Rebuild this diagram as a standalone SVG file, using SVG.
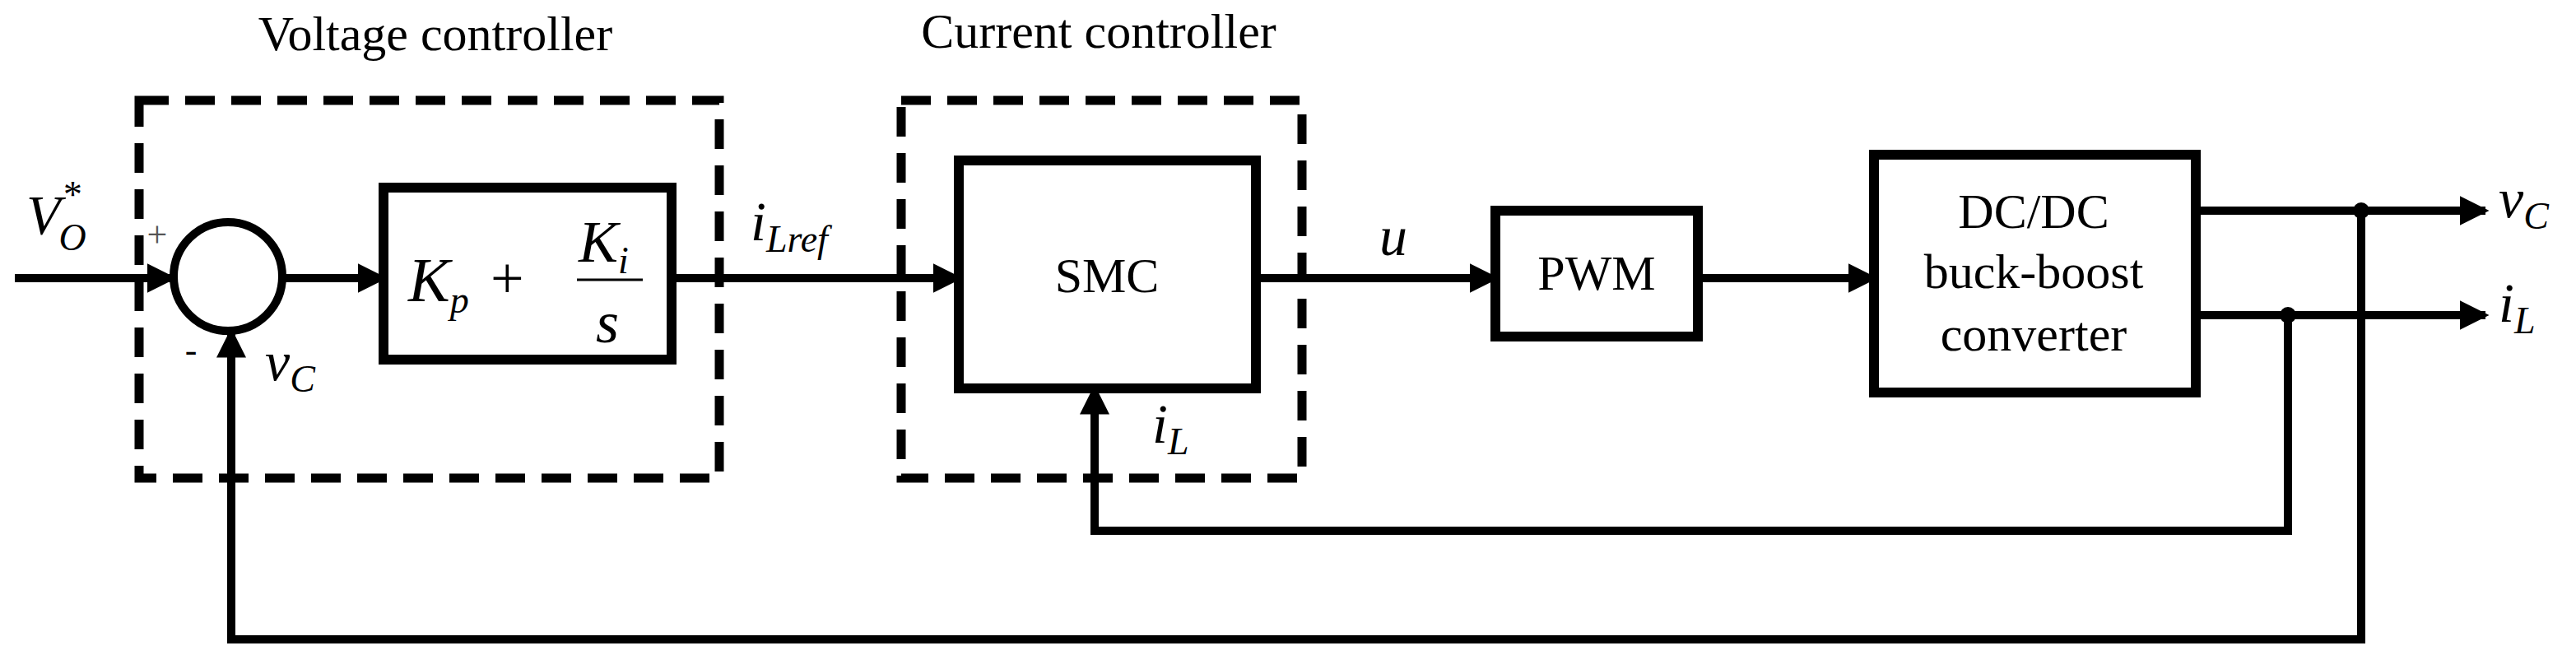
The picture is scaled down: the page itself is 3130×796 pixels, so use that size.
<svg xmlns="http://www.w3.org/2000/svg" width="3130" height="796" viewBox="0 0 3130 796">
<style>
.ln{stroke:#000;stroke-width:10;fill:none}
.bx{stroke:#000;stroke-width:12;fill:#fff}
.ds{stroke:#000;stroke-width:11;fill:none;stroke-dasharray:36 20}
.t{font-family:"Liberation Serif",serif;font-size:60px;fill:#000}
.m{font-family:"Liberation Serif",serif;font-style:italic;font-size:68px;fill:#000}
.s{font-size:46px}
</style>
<defs>
<marker id="ar" markerWidth="3.6" markerHeight="3.6" refX="7" refY="4" orient="auto" markerUnits="strokeWidth" viewBox="0 0 8 8">
<path d="M0,0 L8,4 L0,8 z" fill="#000"/>
</marker>
</defs>
<rect width="3130" height="796" fill="#fff"/>
<g id="voltage-controller">
<rect class="ds" x="169" y="122" width="705" height="459"/>
<text class="t" x="529" y="61" text-anchor="middle">Voltage controller</text>
</g>
<g id="current-controller">
<rect class="ds" x="1095" y="122" width="487" height="459"/>
<text class="t" x="1335" y="58" text-anchor="middle">Current controller</text>
</g>
<g id="sum">
<circle cx="277" cy="336" r="66" fill="#fff" stroke="#000" stroke-width="10"/>
<text class="t" x="191" y="300" text-anchor="middle" style="font-size:44px;fill:#555">+</text>
<text class="t" x="232" y="440" text-anchor="middle" style="font-size:44px">-</text>
</g>
<g id="pi">
<rect class="bx" x="466" y="228" width="350" height="209"/>
<text class="m" x="496" y="366" style="font-size:76px">K<tspan class="s" dy="14">p</tspan></text>
<text class="t" x="596" y="362" style="font-size:72px">+</text>
<text class="m" x="703" y="318" style="font-size:72px">K<tspan class="s" dy="14">i</tspan></text>
<line x1="701" y1="340" x2="781" y2="340" stroke="#000" stroke-width="3"/>
<text class="m" x="724" y="416" style="font-size:72px">s</text>
</g>
<g id="smc">
<rect class="bx" x="1165" y="195" width="361" height="277"/>
<text class="t" x="1345" y="355" text-anchor="middle">SMC</text>
</g>
<g id="pwm">
<rect class="bx" x="1817" y="256" width="246" height="153"/>
<text class="t" x="1940" y="352" text-anchor="middle">PWM</text>
</g>
<g id="converter">
<rect class="bx" x="2277" y="188" width="391" height="289"/>
<text class="t" x="2471" y="277" text-anchor="middle">DC/DC</text>
<text class="t" x="2471" y="350" text-anchor="middle">buck-boost</text>
<text class="t" x="2471" y="426" text-anchor="middle">converter</text>
</g>
<g id="connectors">
<line class="ln" x1="18" y1="338" x2="210" y2="338" marker-end="url(#ar)"/>
<line class="ln" x1="343" y1="338" x2="466" y2="338" marker-end="url(#ar)"/>
<line class="ln" x1="816" y1="338" x2="1165" y2="338" marker-end="url(#ar)"/>
<line class="ln" x1="1526" y1="338" x2="1817" y2="338" marker-end="url(#ar)"/>
<line class="ln" x1="2063" y1="338" x2="2277" y2="338" marker-end="url(#ar)"/>
<line class="ln" x1="2668" y1="256" x2="3020" y2="256" marker-end="url(#ar)"/>
<line class="ln" x1="2668" y1="383" x2="3020" y2="383" marker-end="url(#ar)"/>
<polyline class="ln" points="2780,383 2780,645 1330,645 1330,472" marker-end="url(#ar)"/>
<polyline class="ln" points="2869,256 2869,777 281,777 281,403" marker-end="url(#ar)"/>
<circle cx="2869" cy="256" r="10" fill="#000"/>
<circle cx="2780" cy="383" r="10" fill="#000"/>
</g>
<g id="labels">
<text class="m" x="32" y="284">V<tspan class="s" dx="-2" dy="20">O</tspan><tspan class="s" dx="-30" dy="-52">*</tspan></text>
<text class="m" x="322" y="462">v<tspan class="s" dy="14">C</tspan></text>
<text class="m" x="912" y="292">i<tspan class="s" dy="14">Lref</tspan></text>
<text class="m" x="1676" y="310">u</text>
<text class="m" x="1400" y="538">i<tspan class="s" dy="14">L</tspan></text>
<text class="m" x="3036" y="264">v<tspan class="s" dy="14">C</tspan></text>
<text class="m" x="3036" y="391">i<tspan class="s" dy="14">L</tspan></text>
</g>
</svg>
